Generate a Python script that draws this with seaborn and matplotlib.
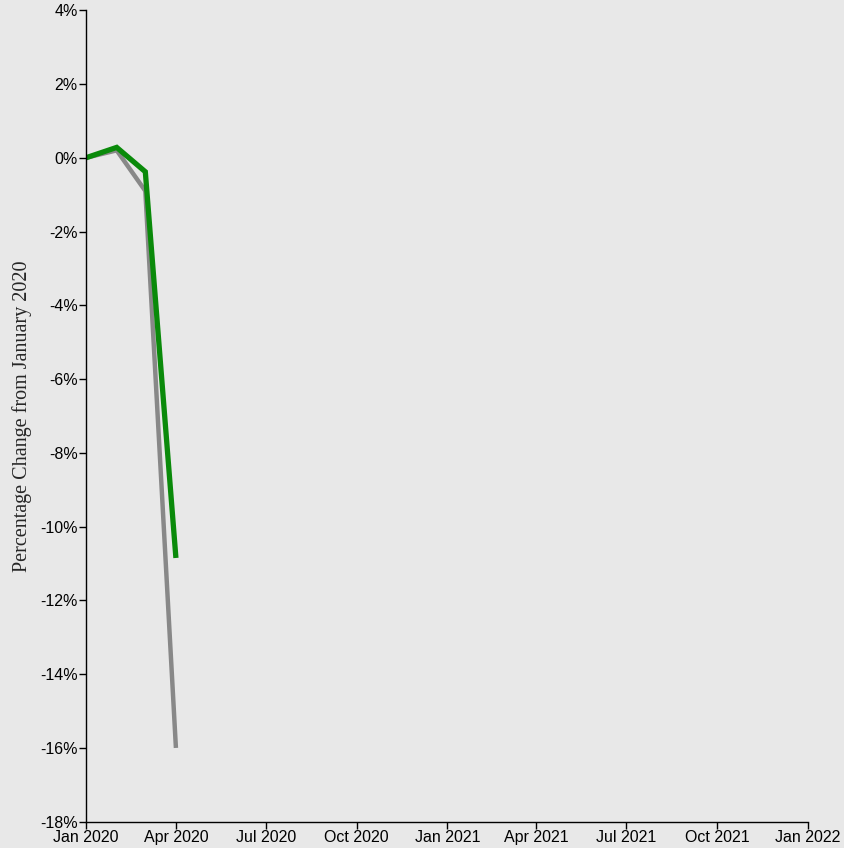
import matplotlib
matplotlib.use("Agg")
import matplotlib.pyplot as plt
import matplotlib.dates as mdates
import matplotlib.ticker as mticker
import pandas as pd
import seaborn as sns

months = ["2020-01-01", "2020-02-01", "2020-03-01", "2020-04-01"]
gray_change = [0.0, 0.2, -0.9, -16.0]
green_change = [0.0, 0.28, -0.38, -10.85]

tick_dates = pd.date_range("2020-01-01", "2022-01-01", freq="3MS")

bg = "#e8e8e8"
sns.set_style("ticks", {"axes.facecolor": bg, "figure.facecolor": bg})
plt.rcParams["font.family"] = ["Liberation Sans", "DejaVu Sans"]

df = pd.DataFrame({
    "date": pd.to_datetime(months * 2),
    "change": gray_change + green_change,
    "series": ["gray"] * len(months) + ["green"] * len(months),
})

fig, ax = plt.subplots(figsize=(8.44, 8.48), dpi=100)
fig.subplots_adjust(left=0.102, right=0.957, top=0.988, bottom=0.031)

sns.lineplot(data=df[df.series == "gray"], x="date", y="change", color="#888888",
             linewidth=3.2, ax=ax, solid_capstyle="butt", solid_joinstyle="miter")
sns.lineplot(data=df[df.series == "green"], x="date", y="change", color="#0a8a0a",
             linewidth=3.8, ax=ax, solid_capstyle="butt", solid_joinstyle="miter")

ax.set_xlim(pd.Timestamp("2020-01-01"), pd.Timestamp("2022-01-01"))
ax.set_ylim(-18, 4)
ax.set_yticks(range(-18, 5, 2))
ax.yaxis.set_major_formatter(mticker.FuncFormatter(lambda v, p: f"{int(v)}%"))
ax.set_xticks(tick_dates)
ax.xaxis.set_major_formatter(mdates.DateFormatter("%b %Y"))
ax.tick_params(labelsize=11.5, length=5, width=1, pad=1, colors="black")
for s in ["top", "right"]:
    ax.spines[s].set_visible(False)
for s in ["left", "bottom"]:
    ax.spines[s].set_linewidth(1)
    ax.spines[s].set_color("black")

ax.set_xlabel("")
ax.set_ylabel("Percentage Change from January 2020", fontsize=14.5,
              family=["Liberation Serif", "DejaVu Serif"], labelpad=6)

fig.savefig("out.png", dpi=100, facecolor=bg)
